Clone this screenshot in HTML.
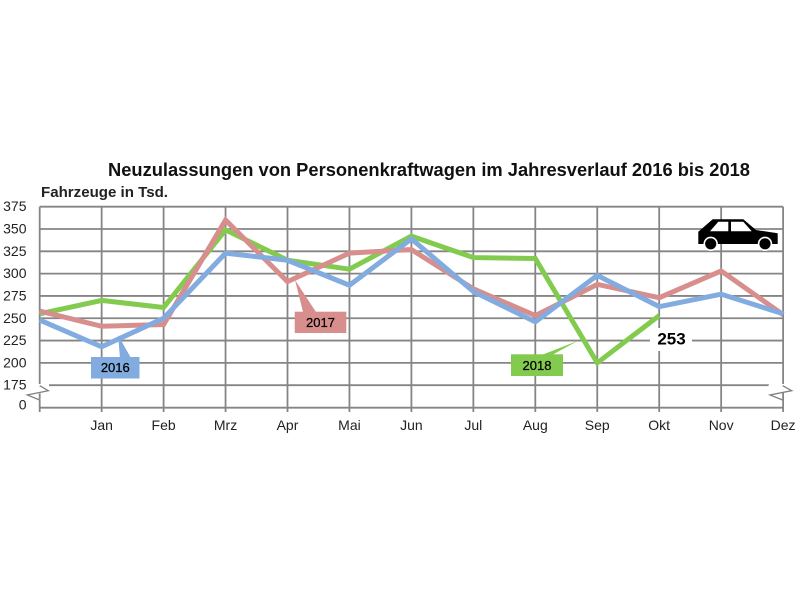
<!DOCTYPE html>
<html lang="de">
<head>
<meta charset="utf-8">
<title>Neuzulassungen von Personenkraftwagen</title>
<style>
html,body{margin:0;padding:0;background:#fff;}
#chart{display:block;width:800px;height:600px;font-family:"Liberation Sans",sans-serif;}
</style>
</head>
<body>
<svg id="chart" xmlns="http://www.w3.org/2000/svg" width="800" height="600" viewBox="0 0 800 600">
  <text x="108" y="176" font-size="18" font-weight="bold" fill="#111" textLength="642" lengthAdjust="spacingAndGlyphs">Neuzulassungen von Personenkraftwagen im Jahresverlauf 2016 bis 2018</text>
  <text x="41" y="197" font-size="15" font-weight="bold" fill="#222" textLength="127" lengthAdjust="spacingAndGlyphs">Fahrzeuge in Tsd.</text>
  <g id="grid"></g>
  <g id="breaks">
    <polygon points="36,384 49,384 49,392 30,395 41,400 36,400" fill="#fff"/>
    <polyline points="39.7,385.7 48.3,390.7 27.3,395 39.7,400" fill="none" stroke="#808080" stroke-width="1.3"/>
    <polygon points="769,384 786,384 791,391 770,395 783,400 779,400 766,394" fill="#fff"/>
    <polyline points="782.7,385.7 791.7,390.7 770,395 782.7,400" fill="none" stroke="#808080" stroke-width="1.3"/>
  </g>
  <g id="series"></g>
  <g id="labels"></g>

  <g>
    <polygon points="118,335 120,358 131,358" fill="#82ACE0"/>
    <rect x="91" y="357" width="48.5" height="21.5" fill="#82ACE0"/>
    <text x="115.3" y="372" font-size="13" text-anchor="middle" fill="#000" stroke="#000" stroke-width="0.25">2016</text>
  </g>
  <g>
    <polygon points="295,280 303,312 316,312" fill="#D98E8E"/>
    <rect x="294.7" y="311.7" width="51.6" height="21.3" fill="#D98E8E"/>
    <text x="320.5" y="327" font-size="13" text-anchor="middle" fill="#000" stroke="#000" stroke-width="0.25">2017</text>
  </g>
  <g>
    <polygon points="578,340.7 541.7,355 552,355" fill="#82CB4E"/>
    <rect x="511" y="354.3" width="52" height="21.7" fill="#82CB4E"/>
    <text x="537" y="370" font-size="13" text-anchor="middle" fill="#000" stroke="#000" stroke-width="0.25">2018</text>
  </g>

  <rect x="650" y="328" width="42" height="23" fill="#fff"/>
  <text x="671.5" y="344.5" font-size="17" font-weight="bold" text-anchor="middle" fill="#000">253</text>

  <g>
    <polygon points="698.3,231.7 712.7,219.3 743.3,219.3 756,230 777.7,233.3 777.7,244 698.3,244" fill="#000"/>
    <polygon points="710,231.3 718.3,221.7 728.3,221.7 728.3,231.3" fill="#fff"/>
    <polygon points="731,221.7 743.3,221.7 751.7,231.3 731,231.3" fill="#fff"/>
    <circle cx="710.7" cy="243.8" r="6.4" fill="#000" stroke="#fff" stroke-width="1.6"/>
    <circle cx="765" cy="243.8" r="6.4" fill="#000" stroke="#fff" stroke-width="1.6"/>
  </g>
</svg>
<script>
const categories = ["", "Jan", "Feb", "Mrz", "Apr", "Mai", "Jun", "Jul", "Aug", "Sep", "Okt", "Nov", "Dez"];
const values2016 = [248, 218, 250, 323, 315, 287, 339, 280, 246, 298, 263, 277, 255];
const values2017 = [258, 241, 243, 360, 291, 323, 327, 283, 253, 288, 273, 303, 254];
const values2018 = [255, 270, 262, 349, 315, 305, 342, 318, 317, 200, 253];
const yTicks = [375, 350, 325, 300, 275, 250, 225, 200, 175, 0];

const svgNS = "http://www.w3.org/2000/svg";
function xAt(i) { return 39.7 + i * 61.95; }
function yAt(v) {
  if (v >= 175) return 206.7 + (375 - v) * 0.8924;
  return 407.7 - v * (22 / 175);
}
function make(tag, attrs) {
  const el = document.createElementNS(svgNS, tag);
  for (const k in attrs) el.setAttribute(k, attrs[k]);
  return el;
}

const grid = document.getElementById("grid");
const labels = document.getElementById("labels");
const series = document.getElementById("series");

yTicks.forEach(function (t) {
  const y = yAt(t);
  const x1 = t === 175 ? 49 : 39.7;
  const x2 = t === 175 ? 769 : xAt(12);
  const line = make("line", { x1: x1, x2: x2, y1: y, y2: y, stroke: "#858585", "stroke-width": 1.8 });
  
  
  grid.appendChild(line);
  const labelY = t === 0 ? y + 2 : y + 4.5;
  const text = make("text", { x: 26.5, y: labelY, "font-size": 14, "text-anchor": "end", fill: "#222" });
  text.textContent = String(t);
  
  
  labels.appendChild(text);
});

categories.forEach(function (c, i) {
  const x = xAt(i);
  const line = make("line", { x1: x, x2: x, y1: yAt(375), y2: 412, stroke: "#858585", "stroke-width": 1.8 });
  
  
  grid.appendChild(line);
  if (c) {
    const text = make("text", { x: x, y: 430, "font-size": 14, "text-anchor": "middle", fill: "#222" });
    text.textContent = c;
    
    
    labels.appendChild(text);
  }
});

function drawSeries(vals, color) {
  const pts = vals.map(function (v, i) { return xAt(i) + "," + yAt(v); }).join(" ");
  const line = make("polyline", { points: pts, fill: "none", stroke: color, "stroke-width": 5, "stroke-linejoin": "miter" });
  return line;
}
const line2018 = drawSeries(values2018, "#82CB4E");


series.appendChild(line2018);
const line2017 = drawSeries(values2017, "#D98E8E");


series.appendChild(line2017);
const line2016 = drawSeries(values2016, "#82ACE0");


series.appendChild(line2016);
</script>
</body>
</html>
